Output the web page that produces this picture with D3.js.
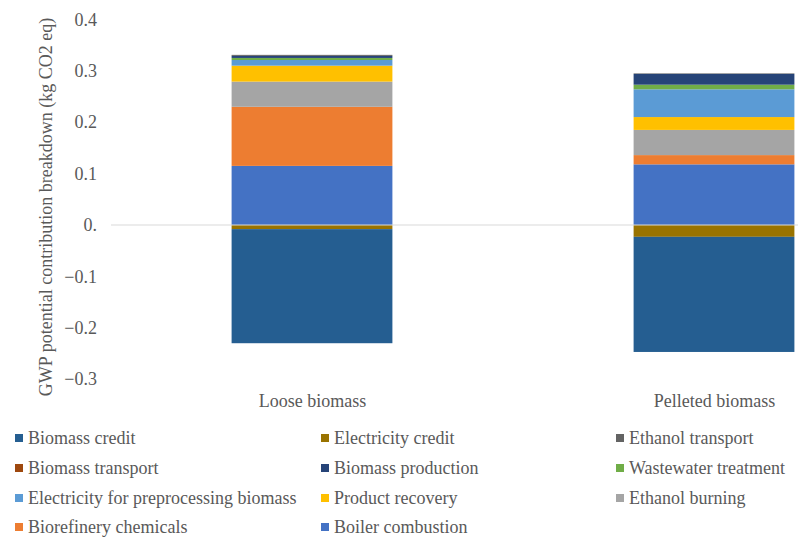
<!DOCTYPE html>
<html>
<head>
<meta charset="utf-8">
<script src="https://cdn.jsdelivr.net/npm/d3@7"></script>
<style>
  html, body { margin: 0; padding: 0; background: #fff; }
  svg { display: block; font-family: "Liberation Serif", "Times New Roman", "DejaVu Serif", serif; }
  svg text { font-family: "Liberation Serif", "Times New Roman", "DejaVu Serif", serif; }
</style>
</head>
<body>
<svg id="chart" width="798" height="537"></svg>
<script>
// Categories on the x axis
const categories = ["Loose biomass", "Pelleted biomass"];

// Series in legend order, with their fill colours
const seriesNames = [
  "Biomass credit", "Electricity credit", "Ethanol transport",
  "Biomass transport", "Biomass production", "Wastewater treatment",
  "Electricity for preprocessing biomass", "Product recovery", "Ethanol burning",
  "Biorefinery chemicals", "Boiler combustion"
];
const seriesColors = [
  "#255e91", "#997300", "#636363",
  "#9e480e", "#264478", "#70ad47",
  "#5b9bd5", "#ffc000", "#a5a5a5",
  "#ed7d31", "#4472c4"
];

// GWP contributions (kg CO2 eq) per series: [Loose, Pelleted]
const biomassCredit        = [-0.222, -0.224];
const electricityCredit    = [-0.008, -0.023];
const ethanolTransport     = [0.002, 0.001];
const biomassTransport     = [0.000, 0.000];
const biomassProduction    = [0.004, 0.021];
const wastewaterTreatment  = [0.004, 0.009];
const electricityPreproc   = [0.011, 0.054];
const productRecovery      = [0.031, 0.025];
const ethanolBurning       = [0.049, 0.049];
const biorefineryChemicals = [0.115, 0.018];
const boilerCombustion     = [0.115, 0.118];

const seriesValues = [
  biomassCredit, electricityCredit, ethanolTransport,
  biomassTransport, biomassProduction, wastewaterTreatment,
  electricityPreproc, productRecovery, ethanolBurning,
  biorefineryChemicals, boilerCombustion
];

// Y axis ticks and their printed labels
const yTicks = [0.4, 0.3, 0.2, 0.1, 0, -0.1, -0.2, -0.3];
const yTickLabels = ["0.4", "0.3", "0.2", "0.1", "0.", "\u22120.1", "\u22120.2", "\u22120.3"];

const textColor = "#595959";
const serif = "'Liberation Serif', 'Times New Roman', 'DejaVu Serif', serif";

// Build table rows: one per category, keyed by series name
const rows = categories.map((c, i) => {
  const r = { category: c };
  seriesNames.forEach((s, j) => { r[s] = seriesValues[j][i]; });
  return r;
});

// Stack from the last legend entry upward (Boiler combustion at the base)
const stackKeys = seriesNames.slice().reverse();
const stacked = d3.stack()
  .keys(stackKeys)
  .offset(d3.stackOffsetDiverging)(rows);

const svg = d3.select("#chart");

const x = d3.scalePoint().domain(categories).range([111, 915]).padding(0.5);
const barWidth = x.step() * 0.4;
const y = d3.scaleLinear().domain([-0.3, 0.4]).range([379.2, 19.4]);

// Bars
const colorOf = d3.scaleOrdinal().domain(seriesNames).range(seriesColors);
svg.append("g").selectAll("g")
  .data(stacked)
  .join("g")
  .attr("fill", d => colorOf(d.key))
  .selectAll("rect")
  .data(d => d)
  .join("rect")
  .attr("x", d => x(d.data.category) - barWidth / 2)
  .attr("width", barWidth)
  .attr("y", d => y(Math.max(d[0], d[1])))
  .attr("height", d => Math.abs(y(d[0]) - y(d[1])));

// Zero line
svg.append("line")
  .attr("x1", 111).attr("x2", 915)
  .attr("y1", y(0)).attr("y2", y(0))
  .attr("stroke", "#d9d9d9").attr("stroke-width", 1);

// Y axis labels (no axis line)
const yAxis = d3.axisLeft(y)
  .tickValues(yTicks)
  .tickFormat((d, i) => yTickLabels[i])
  .tickSize(0)
  .tickPadding(0);
const gy = svg.append("g").attr("transform", "translate(97,0)").call(yAxis)
  .attr("font-family", serif).attr("font-size", 18);
gy.select(".domain").remove();
gy.selectAll("text").attr("fill", textColor);

// Y axis title
svg.append("text")
  .attr("transform", `translate(46,207) rotate(-90)`)
  .attr("text-anchor", "middle")
  .attr("dominant-baseline", "central")
  .attr("fill", textColor)
  .attr("font-size", 18)
  .text("GWP potential contribution breakdown (kg CO2 eq)");

// X axis category labels
const xAxis = d3.axisBottom(x).tickSize(0).tickPadding(0);
const gx = svg.append("g").attr("transform", "translate(0,394)").call(xAxis)
  .attr("font-family", serif).attr("font-size", 18);
gx.select(".domain").remove();
gx.selectAll("text").attr("fill", textColor);

// Legend: three columns, filled row by row
const colX = [15, 321, 616];
const rowY = [438, 468, 498, 527];
const legend = svg.append("g").selectAll("g")
  .data(seriesNames)
  .join("g")
  .attr("transform", (d, i) => `translate(${colX[i % 3]},${rowY[Math.floor(i / 3)]})`);
legend.append("rect")
  .attr("x", 0).attr("y", -4).attr("width", 8).attr("height", 8)
  .attr("fill", d => colorOf(d));
legend.append("text")
  .attr("x", 13).attr("y", 0)
  .attr("dominant-baseline", "central")
  .attr("fill", textColor)
  .attr("font-size", 18)
  .text(d => d);
</script>
</body>
</html>
